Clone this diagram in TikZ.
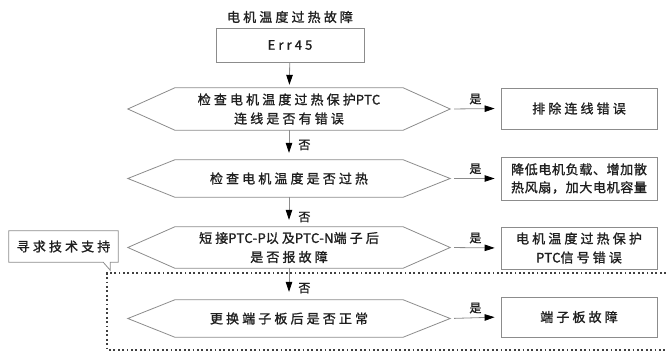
\documentclass[tikz,border=0pt]{standalone}
\usepackage{fontspec}
\usetikzlibrary{arrows.meta}
% spaced and tight variants of the CJK face
\newfontfamily\cjk[LetterSpace=24,FakeBold=1.3]{Noto Sans CJK SC}
\newfontfamily\cjktight[LetterSpace=5,FakeBold=1.3]{Noto Sans CJK SC}
\newfontfamily\latn[LetterSpace=3,FakeBold=1.6]{Noto Sans CJK SC}
\newcommand{\tag}[1]{{\latn #1}}
\definecolor{framec}{gray}{0.55}
\definecolor{ink}{gray}{0.12}

% hexagonal decision frame drawn round a named text node
\newcommand{\hexframe}[1]{%
  \draw[frame] ([xshift=-47pt]#1.west) -- (#1.north west) -- (#1.north east)
    -- ([xshift=47pt]#1.east) -- (#1.south east) -- (#1.south west) -- cycle;
  \coordinate (#1l) at ([xshift=-47pt]#1.west);
  \coordinate (#1r) at ([xshift=47pt]#1.east);}

\begin{document}
\begin{tikzpicture}[x=1pt,y=-1pt,
  every node/.style={text=ink, inner sep=0pt},
  frame/.style={draw=framec, line width=0.8pt},
  txt/.style={font=\cjk\fontsize{13}{19}\selectfont, align=center},
  tighttxt/.style={font=\cjktight\fontsize{13}{18}\selectfont, align=center},
  box/.style={frame, txt, minimum width=156pt},
  hexbody/.style={txt, minimum width=228pt},
  lbl/.style={font=\cjk\fontsize{12}{12}\selectfont},
  flow/.style={draw=framec, line width=0.8pt,
    -{Triangle[length=10pt,width=6.5pt,color=black]}},
  groupline/.style={draw=black!75, line width=1.1pt, dash pattern=on 1.8pt off 2.6pt}]

\useasboundingbox (0,0) rectangle (666,353);

% main column
\node[txt] (title) at (290,17) {电机温度过热故障};
\node[frame, txt, minimum width=148pt, minimum height=34pt] (err) at (290,45) {Err45};

\node[hexbody, minimum height=42pt] (d1) at (289,109) {检查电机温度过热保护\tag{PTC}\\连线是否有错误};
\hexframe{d1}
\node[hexbody, minimum height=37pt] (d2) at (289,178.5) {检查电机温度是否过热};
\hexframe{d2}
\node[hexbody, minimum height=41pt] (d3) at (289,247.5) {短接\tag{PTC-P}以及\tag{PTC-N}端子后\\是否报故障};
\hexframe{d3}
\node[hexbody, minimum height=37pt] (d4) at (289,318.5) {更换端子板后是否正常};
\hexframe{d4}

% result boxes
\node[box, minimum height=41pt] (b1) at (579,108.5) {排除连线错误};
\node[frame, tighttxt, minimum width=156pt, minimum height=43pt] (b2) at (579,178.5) {降低电机负载、增加散\\热风扇，加大电机容量};
\node[box, minimum height=42pt] (b3) at (579,248) {电机温度过热保护\\\tag{PTC}信号错误};
\node[box, minimum height=40pt] (b4) at (579,317) {端子板故障};

% callout on the left
\node[txt, minimum width=109pt, minimum height=31pt] (help) at (63.5,246.5) {寻求技术支持};
\draw[frame] (help.north west) -- (help.north east) -- (help.south east)
  -- ([xshift=-8pt]help.south east) -- ++(0,8) -- ++(-7,-8)
  -- (help.south west) -- cycle;

% dotted group frame
\draw[groupline] (666,273) -- (107,273) -- (107,350) -- (666,350);

% vertical flow
\draw[flow, shorten >=3pt] (err) -- (d1);
\draw[flow, shorten >=7pt] (d1) -- (d2) node[lbl, anchor=west, pos=0.5, xshift=9pt] {否};
\draw[flow, shorten >=7pt] (d2) -- (d3) node[lbl, anchor=west, pos=0.67, xshift=9pt] {否};
\draw[flow, shorten >=8pt] (d3) -- (d4) node[lbl, anchor=west, pos=0.63, xshift=9pt] {否};

% yes branches
\foreach \d/\b in {d1/b1, d2/b2, d3/b3, d4/b4}{
  \draw[flow, shorten <=4pt, shorten >=6pt] (\d r) -- (\b.west)
    node[lbl, midway, anchor=south, yshift=4pt] {是};
}
\end{tikzpicture}
\end{document}
